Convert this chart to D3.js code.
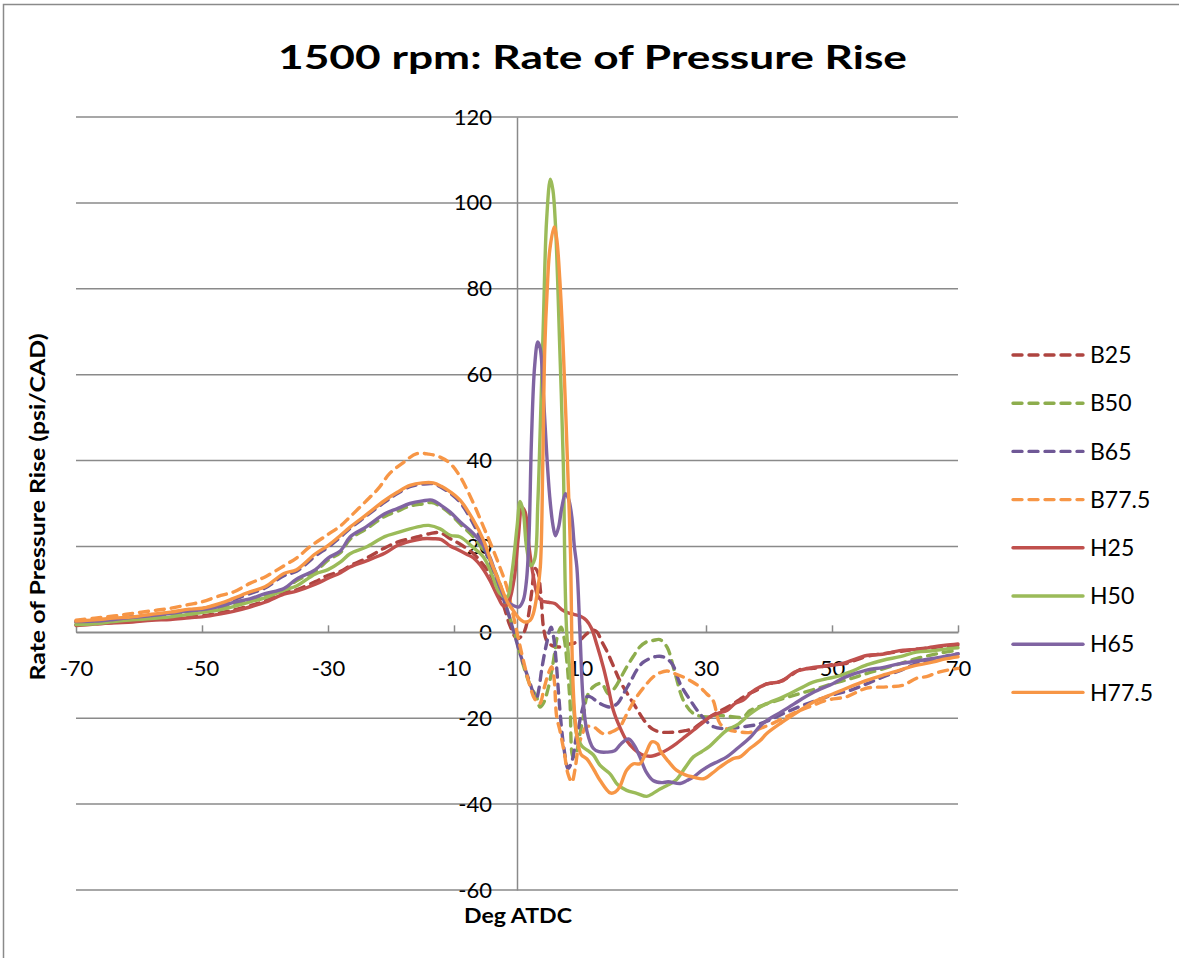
<!DOCTYPE html>
<html>
<head>
<meta charset="utf-8">
<script src="https://cdn.jsdelivr.net/npm/d3@7"></script>
<style>
  html, body { margin: 0; padding: 0; background: #fff; }
  svg { display: block; }
  text { font-family: Lato, "Open Sans", "DejaVu Sans", sans-serif; fill: #000; }
</style>
</head>
<body>
<svg id="chart" width="1179" height="958"></svg>
<script>
// Rate of pressure rise (psi/CAD) against crank angle (deg ATDC), 1500 rpm.
// Each series is a list of [deg, psi/CAD] pairs.
const B25 = [[-70,1.8],[-67,2.1],[-64,2.3],[-61,2.6],[-58,3.0],[-55,3.3],[-52,3.6],[-50,3.8],[-47,4.6],[-45,5.2],[-42.4,6.2],[-40,7.3],[-37,9.2],[-35,9.9],[-32,11.8],[-30,13.3],[-28,14.2],[-26.5,15.5],[-24,17.2],[-21.2,19.5],[-19,21.0],[-17,21.8],[-15.9,22.2],[-13.8,23],[-12.2,23.2],[-10.6,21.8],[-9,20.5],[-6.9,18.3],[-5.5,16],[-4.3,13.7],[-2.2,6.5],[-1.1,1.5],[0,-1.5],[1,-0.3],[1.7,3],[2.3,9],[2.9,14.9],[3.4,13.5],[3.7,10],[3.9,6.7],[4.2,1.2],[4.8,-2.2],[5.8,-3.2],[6.8,-3.4],[8,-2.8],[8.9,-2.6],[10,-1.8],[11.1,-0.3],[12,0.5],[12.7,0.1],[13.4,-2],[14.2,-4.2],[15.2,-7.5],[16.3,-11.2],[17.4,-14],[18.5,-16.6],[19.5,-19],[20.6,-21.3],[21.6,-22.6],[22.7,-23.2],[24,-23.3],[25.3,-23.2],[26.7,-22.9],[28,-22.4],[29.3,-21],[30.6,-19.7],[32,-18.5],[33.3,-17.5],[35,-16],[36.5,-14.5],[38,-13.5],[39.6,-12],[41,-11.8],[43,-10.5],[45,-8.6],[47,-8.4],[50,-7.5],[52,-7.3],[55.5,-5.6],[58,-5.0],[61,-4.4],[64,-3.8],[66,-3.6],[68,-3.2],[70,-3.0]];

const B50 = [[-70,2.3],[-67,2.5],[-64,2.9],[-61,3.3],[-58,3.7],[-55,4.2],[-52,4.7],[-50,5.0],[-47,5.8],[-45,6.7],[-42.4,7.5],[-40,8.6],[-37,9.8],[-35,12],[-32,14.2],[-30,16.8],[-28,18.6],[-26.5,21.7],[-24,24],[-21,27],[-19,28.2],[-17,29.4],[-15,29.9],[-13.5,30.2],[-12,29.2],[-10.6,27.6],[-9,25.2],[-6.9,22.2],[-5.5,19.5],[-4.3,16.8],[-2.7,11.3],[-1.5,5],[-0.5,0.5],[0.5,-5],[1.5,-10],[2.3,-13],[3.1,-15],[3.65,-17.4],[4.2,-16.5],[5,-12.7],[5.8,-6.5],[6.4,-1],[7.0,1.2],[7.5,-1.5],[7.9,-6.5],[8.4,-15.8],[8.9,-29],[9.4,-28],[10,-23.6],[10.6,-19],[11.1,-15],[12.1,-12.7],[13.4,-11.9],[14.5,-14.3],[15.5,-13],[16.5,-10.5],[17.4,-8.1],[18.5,-5.5],[19.5,-3.4],[20.6,-2.2],[21.6,-1.9],[22.7,-1.7],[23.8,-3.4],[25.1,-9.6],[26.4,-15.8],[28,-18.9],[30.1,-19.7],[31.5,-19.3],[33.3,-19.5],[35.9,-19.7],[37,-18.2],[39,-17],[42.3,-15.4],[45,-14.2],[47.6,-13.1],[50,-12],[52.9,-10.8],[55.5,-9.6],[58.1,-8.5],[61,-7.2],[63.4,-6.1],[66,-5.2],[68,-4.6],[70,-4.2]];

const B65 = [[-70,2.5],[-67,2.8],[-64,3.2],[-61,3.6],[-58,4.0],[-55,4.6],[-52,5.2],[-50,5.5],[-47,6.6],[-45,7.6],[-42.4,9.0],[-40,10.3],[-37,13.2],[-35,14.2],[-32,17.8],[-30,19.8],[-28,22.2],[-26.5,24.2],[-24,27],[-21,30.3],[-19,32.3],[-17,33.9],[-15,34.5],[-13.3,34.6],[-12,33.7],[-10.6,32.4],[-9,30.2],[-7,25.5],[-5.3,20],[-4,15],[-2.7,10],[-1.5,5],[-0.5,0],[0.5,-5],[1.4,-9],[2.1,-12],[2.7,-14.5],[3.1,-15.2],[3.5,-13],[3.9,-8.8],[4.7,-2.6],[5.4,1.2],[5.8,-1],[6.2,-6.5],[6.6,-14.3],[7.1,-22.8],[7.5,-27.5],[8.1,-31.7],[8.6,-30.5],[8.9,-29],[9.4,-24.5],[9.7,-22.8],[10.2,-19],[11.1,-15],[11.6,-15],[13.2,-16.6],[14.8,-17.4],[16,-16.5],[16.9,-14.3],[18,-11.5],[19,-8.8],[20,-7],[21.1,-6.1],[22.2,-5.6],[23.2,-5.7],[24.6,-7.3],[25.9,-12],[27.5,-15.8],[29,-18.9],[31.2,-22],[33.3,-22.4],[35.9,-22],[38,-21.5],[40,-20.5],[42.3,-18.9],[45,-17.2],[47.6,-15.8],[50,-14.6],[52.9,-13.5],[55.5,-12],[58.1,-10.4],[61,-8.8],[63.4,-7.3],[66,-6.5],[68,-5.6],[70,-5]];

const B775 = [[-70,2.8],[-67,3.3],[-64,3.8],[-61,4.4],[-58,5.0],[-55,5.6],[-52,6.5],[-50,7.1],[-47,8.6],[-45,9.4],[-42.4,11.4],[-40,12.9],[-37,15.5],[-35,17.3],[-32.9,19.9],[-30,22.8],[-28,24.8],[-26.5,26.9],[-24,30.5],[-22,33.5],[-20.2,37],[-18,39.6],[-15.9,41.6],[-14,41.5],[-12.2,40.8],[-10.6,39.3],[-9,36.2],[-6.9,30],[-5.3,24.5],[-4,20],[-2.8,15.5],[-1.6,10.5],[-0.6,4],[0.3,-2],[1,-6.5],[2.1,-12.7],[2.8,-15.5],[3.6,-16.6],[4.3,-13],[5,-9.5],[5.5,-8],[5.9,-11],[6.3,-19.7],[6.8,-22.8],[7.5,-28],[8.1,-33],[8.7,-34.9],[9.2,-32],[9.7,-27],[10.3,-24],[11,-22],[12.1,-22],[13.7,-23.6],[15,-23.2],[16.3,-22],[17.6,-18.5],[19,-15],[20.3,-12.5],[21.6,-10.4],[22.7,-9.4],[23.8,-9],[25,-9.6],[26.4,-10.4],[27.8,-11.5],[29,-12.7],[30.1,-14.3],[31.1,-15.8],[32.2,-21.2],[33.5,-22.6],[35.4,-23.2],[37,-23.3],[38.6,-22.4],[40.6,-21.2],[42.8,-19.6],[44.9,-18.2],[47,-17],[49.2,-15.8],[52.3,-15],[55.5,-13],[58.7,-12.7],[61.3,-12.3],[63.4,-10.7],[65,-10.3],[67.1,-9.2],[70,-8.4]];

const H25 = [[-70,1.6],[-67,1.9],[-64,2.2],[-61,2.4],[-58,2.8],[-55,3.0],[-52,3.4],[-50,3.6],[-47,4.3],[-45,4.9],[-42.4,5.9],[-40,7.0],[-37,8.9],[-35,9.6],[-32,11.2],[-30,12.6],[-28,13.9],[-26.5,15.2],[-24,16.6],[-21,18.4],[-19,20.2],[-17,21.2],[-15,21.8],[-13.3,21.8],[-12,21.6],[-10.6,20.1],[-9.6,19.4],[-8,18.2],[-6.9,17.3],[-5.5,15],[-4.3,12.1],[-3,8.2],[-2.2,6.2],[-1.5,6.5],[-0.5,12],[0.2,22],[0.8,29],[1.3,28],[1.9,20],[2.6,13],[3.3,8.5],[4,7.3],[5,7.0],[6,6.7],[7.1,5.3],[8,4.6],[9,4.2],[10,3.8],[11,2.8],[11.8,1.0],[12.7,-3],[13.7,-8.1],[14.5,-13],[15.3,-18.2],[16.3,-22],[17.4,-25.2],[18.6,-27.2],[20,-28.6],[21.5,-28.8],[22.7,-28.2],[24,-27.2],[25.3,-25.9],[26.7,-24.3],[28,-22.8],[29.3,-21.3],[30.6,-19.7],[32,-18.8],[33.3,-18.2],[34.6,-16.6],[35.9,-15.8],[37.2,-14],[38.6,-12.7],[40,-11.9],[42,-11.4],[44,-9.3],[45,-8.8],[47,-8.2],[50,-7.7],[52,-7.1],[55.5,-5.4],[58,-5.1],[61,-4.2],[64,-3.9],[66,-3.4],[68,-3.0],[70,-2.7]];

const H50 = [[-70,1.8],[-67,2.0],[-64,2.5],[-61,2.9],[-58,3.2],[-55,3.6],[-52,4.2],[-50,4.6],[-47,5.3],[-45,6.0],[-42.4,7.1],[-40,8.0],[-37,9.8],[-35,10.8],[-32,13.6],[-30,14.6],[-28,16.4],[-26.5,18.3],[-24,19.8],[-21,22.3],[-19,23.2],[-17,24.1],[-15,24.8],[-14,24.9],[-12.2,24.1],[-10.6,22.6],[-9,22.2],[-7,19.8],[-5.3,17.5],[-4,13.5],[-2.7,9.0],[-1.6,8.2],[-0.8,14],[0,24.5],[0.5,30.5],[1.0,28],[1.5,20],[2.2,15.5],[2.8,17],[3.3,30],[3.7,48],[4.2,73],[4.7,96],[5.3,105.5],[5.7,103],[6.1,95],[6.8,65.7],[7.35,39.3],[7.9,-0.3],[8.9,-15.8],[9.5,-24],[10.3,-26.5],[11.2,-27.5],[12.1,-28.5],[13.2,-31],[14.8,-33],[16,-35.5],[17.4,-36.8],[19,-37.5],[20.6,-38.2],[21.6,-37.5],[22.7,-36.5],[24,-35.5],[25.3,-34.3],[26.7,-31.5],[28,-29],[29.3,-27.8],[30.6,-26.5],[32,-24.5],[33.3,-22.8],[35,-21.5],[37,-19],[38.6,-17.4],[40,-16.4],[42,-15.2],[44.9,-13.1],[47,-11.6],[49.2,-10.8],[51,-10.2],[52.9,-9.2],[55.5,-7.6],[58.1,-6.5],[61,-5.6],[63.4,-4.6],[66,-4.3],[68,-3.9],[70,-3.6]];

const H65 = [[-70,2.5],[-67,2.6],[-64,3.0],[-61,3.5],[-58,3.9],[-55,4.4],[-52,5.0],[-50,5.3],[-47,6.1],[-45,7.0],[-42.4,7.8],[-40,9.0],[-37,10.2],[-35,12.4],[-32,14.6],[-30,17.3],[-28,19.0],[-26.5,22.2],[-24,24.5],[-21,27.6],[-19,28.8],[-17,30.0],[-15,30.6],[-13.5,30.8],[-12,29.5],[-10.6,28.0],[-9,25.7],[-6.9,23],[-5.5,20.5],[-4.3,17.5],[-2.7,10.5],[-1.5,7],[-0.5,6.2],[0.3,5.9],[1,7.5],[1.5,12],[1.9,22],[2.3,45],[2.8,62],[3.3,67.6],[3.7,66],[4.2,55],[4.7,42],[5.2,31.5],[5.7,25],[6.1,22.5],[6.6,24.5],[7.1,29],[7.7,32.3],[8.2,31],[8.7,26.9],[9.1,20],[9.5,15.2],[10,-0.3],[10.5,-15.8],[11.1,-23],[12.1,-27],[13,-27.8],[14.2,-27.9],[15.5,-27.6],[16.5,-26],[17.7,-24.8],[18.7,-26.5],[19.5,-29],[20.5,-32.5],[21.6,-34.5],[23,-35],[24,-34.8],[25.9,-35.2],[27,-34.5],[28,-33.7],[29.3,-32.2],[30.6,-31],[32,-30],[33.3,-29],[35,-27],[37,-24.5],[38.6,-21.8],[40,-20.2],[42,-18.5],[44.9,-15.8],[47,-14],[50.2,-11.9],[52,-10.5],[55.5,-8.8],[58,-8.2],[60.8,-7.3],[63,-6.8],[66.1,-6.1],[68,-5.6],[70,-5]];

const H775 = [[-70,2.6],[-67,2.9],[-64,3.3],[-61,3.6],[-58,4.2],[-55,4.7],[-52,5.4],[-50,5.6],[-47,6.8],[-45,7.9],[-42.4,9.4],[-40,10.6],[-37,13.7],[-35,14.6],[-32,18.3],[-30,20.2],[-28,22.6],[-26.5,24.5],[-24,27.3],[-21,30.7],[-19,32.6],[-17,34.2],[-15,34.8],[-13.3,34.8],[-12,34.0],[-10.6,32.7],[-9,30.7],[-7,26.3],[-5.3,21.4],[-4,16],[-2.7,11.3],[-1.5,7],[-0.6,5.1],[0.3,3.3],[1.3,2.4],[2.1,2.8],[2.6,4.4],[3.2,9],[3.7,15.2],[4.1,40],[4.4,65.7],[4.8,80],[5.2,89],[5.9,94.4],[6.3,91.7],[6.8,82],[7.35,65.7],[8.1,36],[8.5,18],[8.8,-8],[9.2,-20],[9.7,-26],[10.2,-28.5],[11.1,-29.5],[12.2,-32],[13.2,-34.5],[14.8,-37.4],[15.6,-37.2],[16.3,-36],[17.4,-32.1],[18.5,-30.6],[19.5,-30.6],[20.5,-28],[21.4,-25.5],[22.3,-26],[22.7,-27.5],[24,-30],[25.3,-32.1],[26.7,-33.2],[28,-33.7],[29.6,-34.1],[31,-32.8],[32.2,-31.4],[34.3,-29.4],[35.4,-29],[37,-27],[38.6,-25.2],[39.6,-23.6],[42,-21],[44.9,-18.2],[47,-16.3],[50.2,-14.3],[52.5,-12.9],[55.5,-11.2],[58,-10],[60.8,-8.8],[63,-7.8],[66.1,-6.9],[68,-6.2],[70,-5.7]];

const seriesNames = ["B25", "B50", "B65", "B77.5", "H25", "H50", "H65", "H77.5"];
const seriesData = [B25, B50, B65, B775, H25, H50, H65, H775];
const seriesColors = ["#AE4440", "#8DAD4D", "#6F5896", "#F79646", "#C0504D", "#9BBB59", "#8064A2", "#F79646"];
const seriesDashed = [true, true, true, true, false, false, false, false];

const xTicks = [-70, -50, -30, -10, 10, 30, 50, 70];
const yTicks = [-60, -40, -20, 0, 20, 40, 60, 80, 100, 120];

const titleText = "1500 rpm: Rate of Pressure Rise";
const xTitle = "Deg ATDC";
const yTitle = "Rate of Pressure Rise (psi/CAD)";

const svg = d3.select("#chart");
const gridColor = "#8a8a8a";
const plainNumber = d => String(d);   // keeps an ASCII hyphen for negatives

// outer frame of the chart area
svg.append("rect")
  .attr("x", 3.5).attr("y", 4.5)
  .attr("width", 1300).attr("height", 1100)
  .attr("fill", "#fff").attr("stroke", "#8a8a8a").attr("stroke-width", 1.5);

const x = d3.scaleLinear().domain([-70, 70]).range([76, 958]);
const y = d3.scaleLinear().domain([-60, 120]).range([890, 117]);

// horizontal gridlines
svg.append("g")
  .selectAll("line")
  .data(yTicks)
  .join("line")
  .attr("x1", x(-70)).attr("x2", x(70))
  .attr("y1", d => y(d)).attr("y2", d => y(d))
  .attr("stroke", gridColor).attr("stroke-width", 1.5);

// vertical value axis crossing at 0 deg
const yAxis = svg.append("g")
  .attr("transform", `translate(${x(0)},0)`)
  .call(d3.axisLeft(y).tickValues(yTicks).tickSize(0).tickPadding(25).tickFormat(plainNumber));
yAxis.select(".domain").attr("stroke", gridColor).attr("stroke-width", 1.5);
yAxis.selectAll("text")
  .style("font-family", "Lato, sans-serif")
  .style("font-size", "22px")
  .attr("fill", "#000");

// horizontal category axis crossing at 0, ticks pointing up, labels below
const xAxis = svg.append("g")
  .attr("transform", `translate(0,${y(0)})`)
  .call(d3.axisBottom(x).tickValues(xTicks).tickSizeInner(-7).tickSizeOuter(0).tickPadding(28).tickFormat(plainNumber));
xAxis.select(".domain").attr("stroke", gridColor).attr("stroke-width", 1.5);
xAxis.selectAll(".tick line").attr("stroke", gridColor).attr("stroke-width", 1.5);
xAxis.selectAll("text")
  .style("font-family", "Lato, sans-serif")
  .style("font-size", "22px")
  .attr("fill", "#000");

// data lines
const line = d3.line()
  .x(d => x(d[0]))
  .y(d => y(d[1]))
  .curve(d3.curveCatmullRom.alpha(0.5));

svg.append("g")
  .selectAll("path")
  .data(seriesData)
  .join("path")
  .attr("d", d => line(d))
  .attr("fill", "none")
  .attr("stroke", (d, i) => seriesColors[i])
  .attr("stroke-width", 3.4)
  .attr("stroke-linecap", "round")
  .attr("stroke-linejoin", "round")
  .attr("stroke-dasharray", (d, i) => seriesDashed[i] ? "9,7" : null);

// legend
const legend = svg.append("g").attr("transform", "translate(1013,355)");
const rows = legend.selectAll("g")
  .data(seriesNames)
  .join("g")
  .attr("transform", (d, i) => `translate(0,${i * 48.2})`);
rows.append("line")
  .attr("x1", 0).attr("x2", 70).attr("y1", 0).attr("y2", 0)
  .attr("stroke", (d, i) => seriesColors[i])
  .attr("stroke-width", 3.4)
  .attr("stroke-linecap", "round")
  .attr("stroke-dasharray", (d, i) => seriesDashed[i] ? "9,7" : null);
rows.append("text")
  .attr("x", 77).attr("y", 0).attr("dy", "0.36em")
  .style("font-size", "23px")
  .text(d => d);

// titles
svg.append("text")
  .attr("x", 592.5).attr("y", 69)
  .attr("text-anchor", "middle")
  .style("font-size", "33px").style("font-weight", "bold")
  .attr("textLength", 629).attr("lengthAdjust", "spacingAndGlyphs")
  .text(titleText);

svg.append("text")
  .attr("x", 518).attr("y", 923)
  .attr("text-anchor", "middle")
  .style("font-size", "20px").style("font-weight", "bold")
  .attr("textLength", 108).attr("lengthAdjust", "spacingAndGlyphs")
  .text(xTitle);

svg.append("text")
  .attr("transform", "translate(45,507) rotate(-90)")
  .attr("text-anchor", "middle")
  .style("font-size", "21px").style("font-weight", "bold")
  .attr("textLength", 347).attr("lengthAdjust", "spacingAndGlyphs")
  .text(yTitle);
</script>
</body>
</html>
